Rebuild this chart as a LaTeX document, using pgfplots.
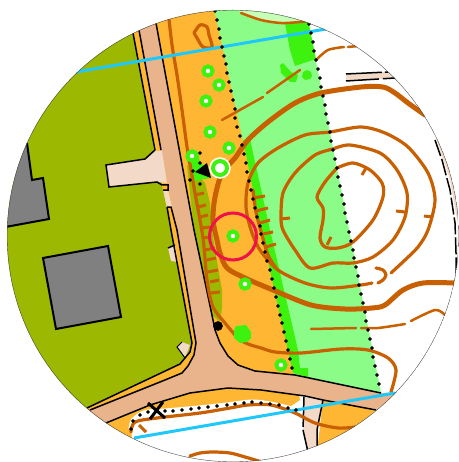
\documentclass[border=0pt]{standalone}
\usepackage{pgfplots}
\pgfplotsset{compat=1.18}
\definecolor{olive}{HTML}{9DB800}
\definecolor{forest}{HTML}{FFB733}
\definecolor{roadc}{HTML}{E9B48C}
\definecolor{pale}{HTML}{F3DAC8}
\definecolor{lgreen}{HTML}{8CFC88}
\definecolor{pgreen}{HTML}{C8FFB8}
\definecolor{bgreen}{HTML}{3DF20F}
\definecolor{brown}{HTML}{C85F00}
\definecolor{water}{HTML}{1FC8FA}
\definecolor{redc}{HTML}{F0104A}
\definecolor{build}{HTML}{808080}
\tikzset{
  area/.style={fill=#1,draw=none},
  edge/.style={black,line width=1.5pt},
  cont/.style={brown,line width=3.2pt,smooth,line cap=round,line join=round},
  thick cont/.style={brown,line width=5pt,smooth,line cap=round,line join=round},
  thin cont/.style={brown,line width=2.5pt,smooth,line cap=round},
  hach/.style={brown,line width=3pt},
  dots/.style={only marks,mark=*,mark size=1.6pt,mark options={draw=black,fill=black}},
  ring/.style={only marks,mark=*,mark size=4.6pt,mark options={draw=bgreen,fill=white,line width=4pt}},
}
\begin{document}
\begin{tikzpicture}
\path[use as bounding box] (0,0) rectangle (458pt,462pt);
\clip (233pt,226pt) circle [radius=226pt];
\begin{axis}[
    at={(0,0)},anchor=south west,
    scale only axis,width=458pt,height=462pt,
    xmin=0,xmax=458,ymin=0,ymax=462,
    y dir=reverse,
    hide axis,
]
% estate
\addplot[area=olive] coordinates {(0,0)(127,0)(171,230)(192,343)(190,352)(180,364)(80,411)(0,460)} --cycle;
% forest, strip beside the road and southern part
\addplot[area=forest] coordinates {(127,0)(214,0)(296,378)(300,400)(240,440)(134,445)(80,411)(180,364)(190,352)(192,343)(171,230)} --cycle;
\addplot[area=forest] coordinates {(323,400)(376,410)(352,432)(317,452)} --cycle;
% light green
\addplot[area=lgreen] coordinates {(212,0)(304,0)(381,393)(295,378)} --cycle;
\addplot[area=pgreen] coordinates {(233,4)(300,4)(309,22)(281,23)(261,20)(241,13)} --cycle;
% bright green
\addplot[area=bgreen] coordinates {(285,23)(308,20)(316,59)(295,66)(290,50)} --cycle;
\addplot[area=bgreen] coordinates {(280,65)(283,63)(291,72)(298,75)(296,82)(290,82)(281,73)} --cycle;
\addplot[area=bgreen] coordinates {(303,72)(307,70)(311,72)(312,76)(310,79)(305,80)(302,77)} --cycle;
\addplot[area=bgreen] coordinates {(243,140)(250,139)(270,230)(298,350)(300,368)(308,368)(308,377)(293,373)(261,230)} --cycle;
% olive strip and green thicket beside the ladder
\addplot[area=olive] coordinates {(187,165)(205,183)(210,203)(212,230)(215,250)(222,290)(222,308)(220,322)(212,315)(194,230)} --cycle;
\addplot[area=bgreen] coordinates {(186,157)(192,149)(198,152)(200,163)(207,167)(210,178)(195,181)(190,170)} --cycle;
% road
\addplot[area=roadc] coordinates {(133,0)(139,29)(161,150)(177,230)(196,343)(194,355)(188,366)(182,373)(160,382)(90,410)(86,412)(106,423)(150,405)(190,393)(228,388)(261,390)(305,396)(323,400)(376,410)(400,392)(381,393)(295,375)(255,371)(238,365)(228,356)(220,343)(215,330)(213,320)(194,230)(156,23)(152,0)} --cycle;
% pale drive and buildings
\addplot[area=pale] coordinates {(106,165)(145,159)(155,151)(162,151)(167,183)(157,182)(109,187)} --cycle;
\addplot[area=forest] coordinates {(162,185)(168,185)(168,190)(163,190)} --cycle;
\addplot[area=pale] coordinates {(163,190)(168,190)(172,207)(167,207)} --cycle;
\addplot[area=pale] coordinates {(168,248)(175,245)(178,262)(171,261)} --cycle;
\addplot[area=pale] coordinates {(177,347)(182,342)(190,345)(185,358)} --cycle;
\addplot[area=pale] coordinates {(346,74)(388,72)(395,78)(346,81)} --cycle;
\addplot[area=pale] coordinates {(436,138)(450,180)(458,225)(457,275)(470,275)(470,130)} --cycle;
\addplot[area=pale] coordinates {(304,397)(323,400)(317,430)(317,452)(308,452)(303,430)} --cycle;
\addplot[area=build] coordinates {(27,143)(32,180)(43,178)(49,219)(0,228)(0,143)} --cycle;
\addplot[area=build] coordinates {(43,258)(108,246)(121,317)(56,329)} --cycle;
% southern open land
\addplot[area=white] coordinates {(133,445)(131,429)(133,421)(140,415)(148,412)(165,411)(199,408)(227,405)(252,402)(270,404)(288,408)(303,411)(303,430)(308,455)(200,475)(120,470)} --cycle;
\addplot[white,line width=5pt,smooth] coordinates {(131,429)(133,421)(140,415)(148,412)(165,411)(199,408)(227,405)(252,402)(270,404)(288,408)(296,410)};
% black edges
\addplot[edge] coordinates {(133,33)(155,150)};
\addplot[edge] coordinates {(139,30)(161,150)};
\addplot[edge] coordinates {(156,23)(194,230)(213,320)(215,330)(220,343)(228,356)(238,365)(255,371)(295,375)(381,393)};
\addplot[edge] coordinates {(155,150)(145,159)(106,165)(109,187)(157,182)(162,185)(168,185)(168,190)(163,190)};
\addplot[edge] coordinates {(167,207)(171,207)(177,230)(196,343)(194,355)(188,366)(182,373)(160,382)(90,410)};
\addplot[edge] coordinates {(167,207)(171,230)(192,343)(190,352)(180,364)(87,408)};
\addplot[edge] coordinates {(106,423)(150,405)(190,393)(228,388)(261,390)(305,396)(323,400)(376,410)};
\addplot[edge,line width=2pt] coordinates {(27,143)(32,180)(43,178)(49,219)(0,228)};
\addplot[edge,line width=2pt] coordinates {(43,258)(108,246)(121,317)(56,329)} --cycle;
\addplot[edge] coordinates {(168,248)(175,245)};
\addplot[edge,line width=1pt] coordinates {(185,358)(177,347)(182,342)};
\addplot[edge,dash pattern=on 36pt off 3pt] coordinates {(346,74)(388,72)};
\addplot[edge,dash pattern=on 33pt off 4pt] coordinates {(346,81)(395,78)};
\addplot[edge,dash pattern=on 17pt off 3pt] coordinates {(435,140)(442,160)(450,190)(455,223)(456,253)(456,273)};
\addplot[edge,dash pattern=on 30pt off 3pt] coordinates {(304,397)(303,430)(308,452)};
\addplot[edge] coordinates {(323,400)(317,430)(317,452)};
% contours
\addplot[thick cont] coordinates {(425,115)(408,103)(395,93)(383,87)(361,87)(321,93)(295,103)(268,122)(248,140)(235,158)(222,173)(215,197)(213,220)(217,240)(220,253)(227,268)(245,278)(273,290)(311,305)(345,309)(372,308)(385,305)(403,290)(423,283)(455,283)};
\addplot[cont] coordinates {(168,10)(172,45)(177,75)(182,110)(187,147)(191,170)(195,193)(203,238)(207,280)(213,307)(225,323)(238,338)(248,344)(261,348)(275,352)(301,353)(341,349)(368,350)(388,358)(396,370)(391,392)};
\addplot[cont] coordinates {(391,273)(405,260)(418,247)(428,230)(435,200)(428,173)(408,147)(385,133)(361,127)(330,132)(305,135)(278,148)(258,163)(248,183)(246,207)(251,230)(260,250)(278,270)(305,283)(331,288)(361,285)(372,283)};
\addplot[cont] coordinates {(253,190)(256,212)(262,235)(268,255)(276,268)};
\addplot[cont] coordinates {(333,149)(350,145)(380,153)(397,170)(407,193)(405,217)(393,240)(373,257)(353,263)(333,263)(310,268)(295,250)(283,230)(281,217)(283,193)(295,173)(315,155)(333,149)};
\addplot[cont] coordinates {(337,168)(353,163)(370,170)(382,183)(383,197)(373,220)(353,242)(338,248)(325,247)(320,238)(323,220)(323,208)(317,197)(325,182)(337,168)};
\addplot[cont] coordinates {(376,268)(383,270)(386,275)(383,280)(378,283)};
\addplot[cont] coordinates {(194,33)(200,25)(207,27)(209,35)(212,47)(203,47)(197,38)(194,33)};
\addplot[cont] coordinates {(131,432)(135,422)(157,418)(200,413)(230,408)(248,405)(271,405)(295,413)(315,423)(338,428)(355,427)};
\addplot[cont] coordinates {(190,456)(200,453)(213,452)(230,453)(245,457)(262,462)};
\addplot[thin cont] coordinates {(311,329)(356,328)};
\addplot[thin cont] coordinates {(361,328)(378,328)(405,324)};
\addplot[thin cont] coordinates {(411,321)(435,310)(445,315)};
\addplot[thin cont] coordinates {(222,120)(263,97)};
\addplot[thin cont] coordinates {(267,93)(300,70)};
\addplot[thin cont] coordinates {(316,60)(328,50)(344,47)};
\addplot[thin cont] coordinates {(348,47)(358,46)};
\addplot[thin cont] coordinates {(241,13)(261,20)(281,23)(300,22)(308,21)};
% green clearing over the contour
\addplot[area=bgreen] coordinates {(234,330)(236,326)(246,325)(251,332)(251,338)(247,342)(240,343)(234,338)} --cycle;
% hachures
\addplot[hach] coordinates {(195,195)(204,193)};
\addplot[hach] coordinates {(198,207)(206,205)};
\addplot[hach] coordinates {(200,217)(208,215)};
\addplot[hach] coordinates {(202,228)(210,227)};
\addplot[hach] coordinates {(203,238)(210,237)};
\addplot[hach] coordinates {(205,250)(215,248)};
\addplot[hach] coordinates {(207,260)(216,258)};
\addplot[hach] coordinates {(208,272)(218,270)};
\addplot[hach] coordinates {(210,282)(219,280)};
\addplot[hach] coordinates {(211,293)(220,292)};
\addplot[hach] coordinates {(253,198)(265,196)};
\addplot[hach] coordinates {(256,211)(268,208)};
\addplot[hach] coordinates {(260,223)(270,220)};
\addplot[hach] coordinates {(263,234)(273,232)};
\addplot[hach] coordinates {(266,247)(276,244)};
\addplot[hach] coordinates {(281,219)(290,218)};
\addplot[hach] coordinates {(396,211)(405,212)};
\addplot[hach] coordinates {(424,216)(433,217)};
\addplot[hach] coordinates {(362,175)(366,168)};
\addplot[hach] coordinates {(327,245)(331,237)};
\addplot[hach] coordinates {(139,425)(146,432)};
% water
\addplot[water,line width=3pt] coordinates {(76,72)(326,29)};
\addplot[water,line width=3pt] coordinates {(134,438)(395,393)};
% dotted boundaries
\addplot[dots] coordinates {(215,11)(217,20)(219,29)(220,38)(222,47)(224,56)(226,64)(227,73)(229,82)(231,91)(233,100)(235,109)(235,118)(237,127)(240,136)(242,145)(244,154)(246,163)(247,172)(249,181)(251,190)(253,199)(255,208)(257,217)(260,226)(261,234)(263,243)(265,252)(267,261)(270,270)(272,279)(274,288)(276,297)(278,306)(280,315)(282,323)(284,332)(286,341)(288,350)(290,359)(292,368)};
\addplot[dots] coordinates {(309,24)(311,33)(313,42)(314,51)(316,60)(318,69)(320,78)(321,87)(323,96)(325,105)(326,114)(328,123)(330,132)(331,141)(333,150)(335,159)(337,168)(338,177)(340,186)(342,195)(344,204)(345,213)(347,222)(349,232)(351,241)(353,250)(354,258)(356,267)(358,276)(359,285)(361,294)(363,303)(365,312)(366,321)(368,330)(370,339)(372,348)(373,357)(375,366)(377,375)(379,384)};
\addplot[dots] coordinates {(131,429)(133,421)(140,415)(148,412)(165,411)(173,411)(182,410)(191,409)(199,408)(208,407)(217,406)(227,405)(235,404)(244,403)(252,402)(261,403)(270,404)(279,405)(288,408)(296,410)};
\addplot[dots] coordinates {(200,153)(192,160)(200,163)(205,168)(193,171)(190,180)(200,184)};
% green rings
\addplot[ring] coordinates {(208,71)(219,85)(206,101)(210,132)(229,148)(192,156)(233,236)(245,284)(281,365)};
\addplot[only marks,mark=*,mark size=10.5pt,mark options={draw=white,fill=white}] coordinates {(220,168)};
\addplot[only marks,mark=*,mark size=7pt,mark options={draw=bgreen,fill=white,line width=4pt}] coordinates {(220,168)};
% point features
\addplot[fill=black,draw=none] coordinates {(195,172)(207,163)(211,178)} --cycle;
\addplot[only marks,mark=*,mark size=4.6pt,mark options={draw=black,fill=black}] coordinates {(218,326)};
\addplot[black,line width=3pt] coordinates {(148,403)(165,418)};
\addplot[black,line width=3pt] coordinates {(150,419)(163,402)};
% control circle
\addplot[only marks,mark=o,mark size=23.5pt,mark options={draw=redc,line width=3pt}] coordinates {(233,236.5)};
\end{axis}
\draw[black!70,line width=0.8pt] (233pt,226pt) circle [radius=226pt];
\end{tikzpicture}
\end{document}
